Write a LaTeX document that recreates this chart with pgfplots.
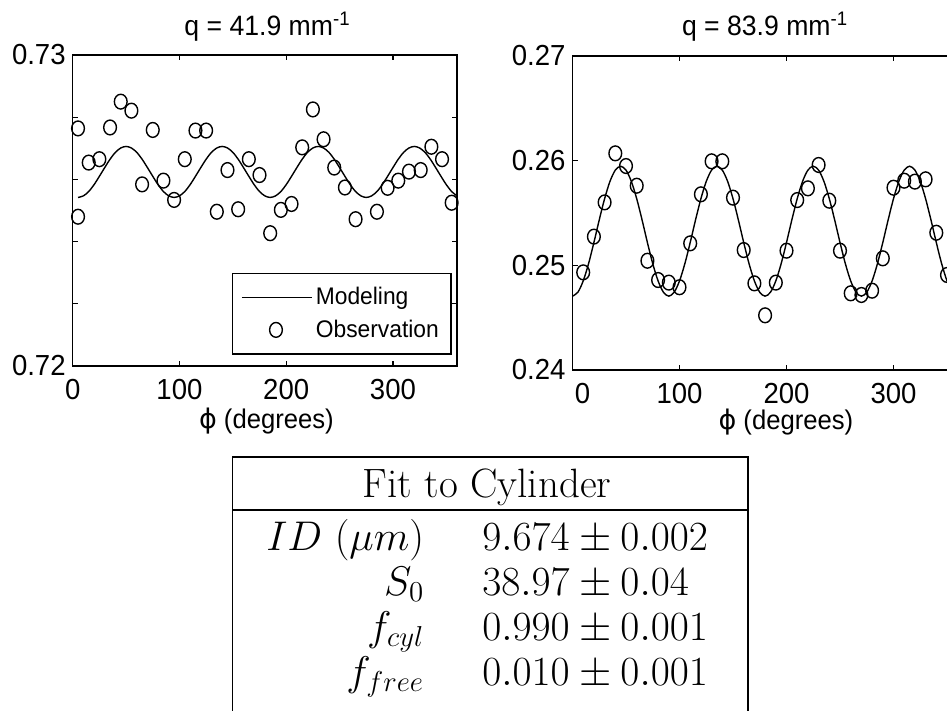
\documentclass[border=0pt]{standalone}
\usepackage{fontspec}
\usepackage{pgfplots}
\pgfplotsset{compat=1.18}
\newfontfamily\plotfont{Liberation Sans}[FakeStretch=0.95]
\newfontfamily\phifont{DejaVu Sans}

\pgfplotsset{
  matlab/.style={
    scale only axis,
    xmin=0, xmax=360,
    xtick={0,100,200,300},
    axis line style={line width=0.8pt},
    major tick style={line width=0.6pt, black},
    major tick length=2.5pt,
    tick align=inside,
    /pgf/number format/assume math mode=true,
    tick label style={font=\plotfont\fontsize{14.5}{16}\selectfont},
    xticklabel style={yshift=-3pt},
    title style={font=\plotfont\fontsize{14}{16}\selectfont, anchor=base},
    xlabel style={font=\plotfont\fontsize{13.5}{16}\selectfont, anchor=base},
  },
  model/.style={black, line width=0.7pt, smooth, no markers,
    legend image code/.code={\draw[##1] (0pt,0pt) -- (35pt,0pt);}},
  obs/.style={black, only marks, mark=o, mark size=3.7pt,
    mark options={xscale=0.86, line width=0.7pt},
    legend image code/.code={\path (0pt,0pt) (35pt,0pt);
      \draw[mark repeat=2,mark phase=2,##1] plot coordinates {(0pt,0pt) (17pt,0pt) (35pt,0pt)};}},
}

\begin{document}
\begin{tikzpicture}
\useasboundingbox (0pt,0pt) rectangle (473.5pt,-355.5pt);
\clip (0pt,0pt) rectangle (473.5pt,-355.5pt);

% left panel
\begin{axis}[matlab,
  at={(36.35pt,-183pt)}, anchor=south west,
  width=192.15pt, height=155.5pt,
  ymin=0.72, ymax=0.73,
  xticklabels={0,100,200,300},
  ytick={0.72,0.722,0.724,0.726,0.728,0.73},
  yticklabels={0.72,{},{},{},{},0.73},
  title={q = 41.9 mm\textsuperscript{-1}},
  title style={at={(0.507,1)}, yshift=3.65pt},
  xlabel={{\phifont ϕ} (degrees)},
  xlabel style={at={(0.504,0)}, yshift=-31pt},
  legend cell align=left,
  legend style={at={(0.4137,0.3)}, anchor=north west, draw=black,
    line width=0.6pt, font=\plotfont\fontsize{12}{14}\selectfont,
    inner xsep=4.5pt, inner ysep=4pt,
    nodes={inner xsep=1.6pt, inner ysep=3pt}},
]
\addplot[model] table {
x y
5 0.72542
10 0.72547
15 0.72561
20 0.72583
25 0.72610
30 0.72638
35 0.72665
40 0.72687
45 0.72701
50 0.72706
55 0.72701
60 0.72687
65 0.72665
70 0.72638
75 0.72610
80 0.72583
85 0.72561
90 0.72547
95 0.72542
100 0.72547
105 0.72561
110 0.72583
115 0.72610
120 0.72638
125 0.72665
130 0.72687
135 0.72701
140 0.72706
145 0.72701
150 0.72687
155 0.72665
160 0.72638
165 0.72610
170 0.72583
175 0.72561
180 0.72547
185 0.72542
190 0.72547
195 0.72561
200 0.72583
205 0.72610
210 0.72638
215 0.72665
220 0.72687
225 0.72701
230 0.72706
235 0.72701
240 0.72687
245 0.72665
250 0.72638
255 0.72610
260 0.72583
265 0.72561
270 0.72547
275 0.72542
280 0.72547
285 0.72561
290 0.72583
295 0.72610
300 0.72638
305 0.72665
310 0.72687
315 0.72701
320 0.72706
325 0.72701
330 0.72687
335 0.72665
340 0.72638
345 0.72610
350 0.72583
355 0.72561
360 0.72547
};
\addlegendentry{Modeling}
\addplot[obs] table {
x y
5 0.72764
5 0.72480
15 0.72654
25 0.72665
35 0.72767
45 0.72850
55 0.72821
65 0.72584
75 0.72759
85 0.72596
95 0.72534
105 0.72665
115 0.72757
125 0.72757
135 0.72496
145 0.72630
155 0.72504
165 0.72665
175 0.72614
185 0.72427
195 0.72502
205 0.72521
215 0.72703
225 0.72825
235 0.72729
245 0.72638
255 0.72574
265 0.72472
285 0.72496
295 0.72573
305 0.72596
315 0.72625
326 0.72630
336 0.72705
346 0.72665
355 0.72525
};
\addlegendentry{Observation}
\end{axis}

% right panel
\begin{axis}[matlab,
  at={(286.25pt,-185pt)}, anchor=south west,
  width=192.6pt, height=157.15pt,
  ymin=0.24, ymax=0.27,
  xticklabels={\hspace*{10pt}0,100,200,300},
  ytick={0.24,0.25,0.26,0.27},
  yticklabels={0.24,0.25,0.26,0.27},
  title={q = 83.9 mm\textsuperscript{-1}},
  title style={at={(0.5,1)}, yshift=4pt},
  xlabel={{\phifont ϕ} (degrees)},
  xlabel style={at={(0.554,0)}, yshift=-29.5pt},
]
\addplot[model] table {
x y
0 0.24705
5 0.24742
10 0.24850
15 0.25015
20 0.25217
25 0.25433
30 0.25635
35 0.25800
40 0.25908
45 0.25945
50 0.25908
55 0.25800
60 0.25635
65 0.25433
70 0.25217
75 0.25015
80 0.24850
85 0.24742
90 0.24705
95 0.24742
100 0.24850
105 0.25015
110 0.25217
115 0.25433
120 0.25635
125 0.25800
130 0.25908
135 0.25945
140 0.25908
145 0.25800
150 0.25635
155 0.25433
160 0.25217
165 0.25015
170 0.24850
175 0.24742
180 0.24705
185 0.24742
190 0.24850
195 0.25015
200 0.25217
205 0.25433
210 0.25635
215 0.25800
220 0.25908
225 0.25945
230 0.25908
235 0.25800
240 0.25635
245 0.25433
250 0.25217
255 0.25015
260 0.24850
265 0.24742
270 0.24705
275 0.24742
280 0.24850
285 0.25015
290 0.25217
295 0.25433
300 0.25635
305 0.25800
310 0.25908
315 0.25945
320 0.25908
325 0.25800
330 0.25635
335 0.25433
340 0.25217
345 0.25015
350 0.24850
355 0.24742
360 0.24705
};
\addplot[obs] table {
x y
10 0.24932
20 0.25273
30 0.25600
40 0.26068
50 0.25947
60 0.25759
70 0.25043
80 0.24859
90 0.24834
100 0.24790
110 0.25209
120 0.25677
130 0.25992
140 0.25992
150 0.25645
160 0.25145
170 0.24827
180 0.24522
190 0.24834
200 0.25139
210 0.25622
220 0.25734
230 0.25957
240 0.25616
250 0.25139
260 0.24732
270 0.24716
280 0.24757
290 0.25066
300 0.25740
310 0.25807
320 0.25798
330 0.25820
340 0.25310
350 0.24907
};
\end{axis}

% fit table
\draw[line width=0.9pt] (116.25pt,-360pt) -- (116.25pt,-228.5pt) -- (374pt,-228.5pt) -- (374pt,-360pt);
\draw[line width=0.9pt] (116.25pt,-254.8pt) -- (374pt,-254.8pt);
\begin{scope}[every node/.style={inner sep=0pt, font=\fontsize{20.5}{24}\selectfont}]
\node[anchor=base] at (243.5pt,-248.5pt) {Fit to Cylinder};
\node[anchor=base east] at (212.25pt,-275pt) {$ID\ (\mu m)$};
\node[anchor=base west] at (241pt,-275pt) {$9.674\pm0.002$};
\node[anchor=base east] at (212.25pt,-297.5pt) {$S_0$};
\node[anchor=base west] at (241pt,-297.5pt) {$38.97\pm0.04$};
\node[anchor=base east] at (212.25pt,-320pt) {$f_{cyl}$};
\node[anchor=base west] at (241pt,-320pt) {$0.990\pm0.001$};
\node[anchor=base east] at (212.25pt,-342.5pt) {$f_{free}$};
\node[anchor=base west] at (241pt,-342.5pt) {$0.010\pm0.001$};
\end{scope}
\end{tikzpicture}
\end{document}
